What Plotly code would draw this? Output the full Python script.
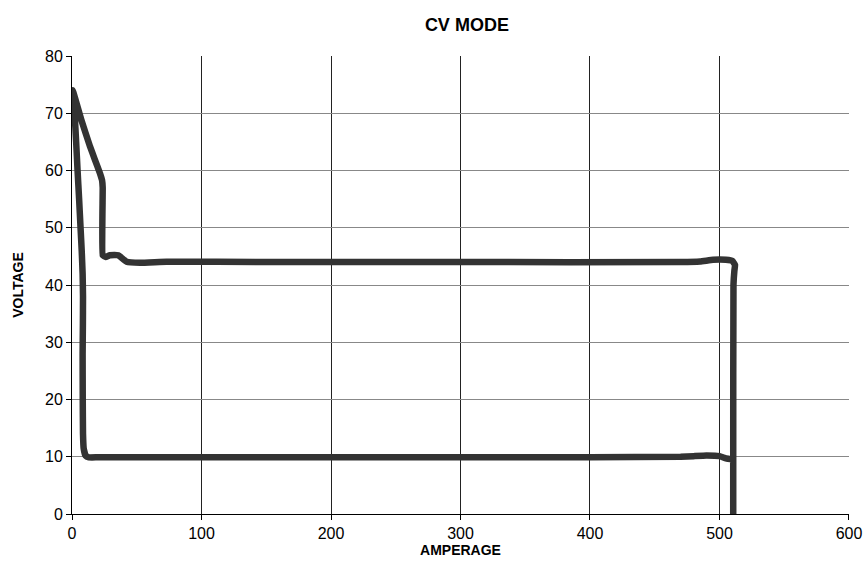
import plotly.graph_objects as go

# CV mode trace: amperage (A) against voltage (V), drawn as one continuous path
amperage = [510.6, 510.6, 510.8, 511.5, 512.0, 510.0, 505.0, 495.0, 485.0, 470.0,
            300.0, 150.0, 73.0, 52.5, 42.2, 38.0, 35.8, 29.3, 26.0, 23.7,
            23.7, 23.2, 21.6, 17.5, 13.9, 7.0, 0.5,
            2.0, 3.2, 4.3, 5.5, 6.6, 7.5, 8.2, 8.5, 8.4, 8.2, 8.3, 8.5,
            9.0, 10.5, 13.0, 20.0, 200.0, 400.0, 470.0, 480.0, 490.0, 500.0,
            505.0, 510.6]
voltage = [0.0, 9.5, 40.0, 42.5, 43.5, 44.2, 44.4, 44.4, 44.1, 44.0,
           44.0, 44.0, 44.07, 43.9, 44.07, 44.8, 45.2, 45.2, 44.9, 45.2,
           57.0, 58.3, 59.5, 62.0, 64.2, 69.0, 74.0,
           70.0, 65.0, 60.0, 55.0, 50.0, 46.0, 42.0, 38.0, 33.0, 28.0, 20.0, 14.0,
           11.5, 10.2, 9.9, 9.9, 9.9, 9.9, 10.0, 10.1, 10.2, 10.1,
           9.7, 9.5]

x_ticks = [0, 100, 200, 300, 400, 500, 600]
y_ticks = [0, 10, 20, 30, 40, 50, 60, 70, 80]

sans = "Liberation Sans, Arial, sans-serif"

fig = go.Figure(
    go.Scatter(
        x=amperage, y=voltage, mode="lines",
        line=dict(color="#333333", width=6.5, shape="spline", smoothing=0.3),
        hoverinfo="x+y", showlegend=False,
    )
)

fig.update_layout(
    width=863, height=564,
    margin=dict(l=72, r=14, t=56, b=50),
    paper_bgcolor="white", plot_bgcolor="white",
    title=dict(text="<b>CV MODE</b>", x=0.541, xanchor="center", y=0.957, yanchor="middle",
               font=dict(family=sans, size=18, color="black")),
)

fig.update_xaxes(
    range=[0, 600.01], tickvals=x_ticks, ticktext=[str(v) for v in x_ticks],
    showgrid=True, gridcolor="#222222", gridwidth=1,
    showline=True, linecolor="black", linewidth=1,
    ticks="outside", ticklen=5, tickcolor="black",
    tickfont=dict(family=sans, size=16, color="black"),
    title=dict(text="<b>AMPERAGE</b>", standoff=2,
               font=dict(family=sans, size=14, color="black")),
    zeroline=False, fixedrange=True, automargin=False,
)
fig.update_yaxes(
    range=[0, 80], tickvals=y_ticks, ticktext=[str(v) for v in y_ticks],
    showgrid=True, gridcolor="#888888", gridwidth=1,
    showline=True, linecolor="black", linewidth=1,
    ticks="outside", ticklen=5, tickcolor="black",
    tickfont=dict(family=sans, size=16, color="black"),
    title=dict(text="<b>VOLTAGE</b>", standoff=18,
               font=dict(family=sans, size=14, color="black")),
    zeroline=False, fixedrange=True, automargin=False,
)

fig.write_html("out.html")
